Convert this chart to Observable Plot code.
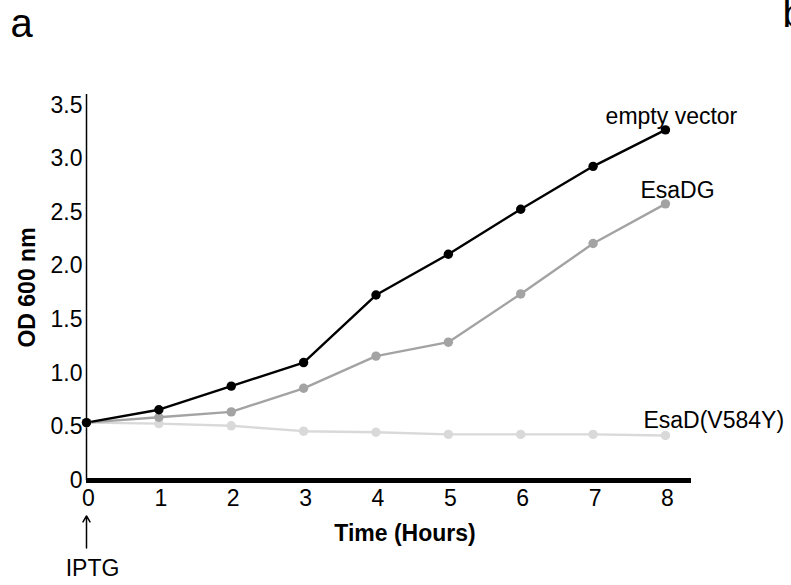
<!DOCTYPE html>
<html>
<head>
<meta charset="utf-8">
<script src="https://cdn.jsdelivr.net/npm/d3@7"></script>
<script src="https://cdn.jsdelivr.net/npm/@observablehq/plot@0.6"></script>
<style>
  html, body { margin: 0; padding: 0; background: #fff; }
  #chart svg { display: block; }
</style>
</head>
<body>
<div id="chart"></div>
<script>
const hours = [0, 1, 2, 3, 4, 5, 6, 7, 8];
const seriesNames = ["empty vector", "EsaDG", "EsaD(V584Y)"];
const emptyVector = [0.54, 0.66, 0.88, 1.10, 1.73, 2.11, 2.53, 2.93, 3.27];
const esaDG       = [0.54, 0.59, 0.64, 0.86, 1.16, 1.29, 1.74, 2.21, 2.58];
const esaDV584Y   = [0.54, 0.53, 0.51, 0.46, 0.45, 0.43, 0.43, 0.43, 0.42];
const seriesColors = ["#000000", "#a3a3a3", "#d9d9d9"];
const yTicks = [0, 0.5, 1.0, 1.5, 2.0, 2.5, 3.0, 3.5];
const yLabel = "OD 600 nm";
const xLabel = "Time (Hours)";
const inductionLabel = "IPTG";
const inductionArrow = {hour: 0, from: -0.63, to: -0.33};

const values = [emptyVector, esaDG, esaDV584Y];
const rows = seriesNames.flatMap((s, i) =>
  hours.map((h, j) => ({series: s, hour: h, od: values[i][j]})));
const last = seriesNames.map((s, i) => ({series: s, hour: hours[hours.length - 1], od: values[i][hours.length - 1]}));

const font = "'Liberation Sans', Arial, sans-serif";
const colorOf = d => seriesColors[seriesNames.indexOf(d.series)];

const plot = Plot.plot({
  width: 791,
  height: 585,
  marginLeft: 86,
  marginRight: 100,
  marginTop: 94,
  marginBottom: 105,
  style: {fontFamily: font, color: "#000", background: "#fff", overflow: "visible"},
  x: {domain: [0, 8.36]},
  y: {domain: [0, 3.6]},
  marks: [
    Plot.axisY({ticks: yTicks, tickSize: 0, tickPadding: 4, fontSize: 23, label: null,
      tickFormat: d => d === 0 ? "0" : d.toFixed(1)}),
    Plot.axisX({ticks: hours, tickSize: 0, tickPadding: 9, dx: 2, fontSize: 23, label: null}),
    Plot.ruleX([0], {stroke: "#000", strokeWidth: 1.5}),
    Plot.ruleY([0], {stroke: "#000", strokeWidth: 5}),
    Plot.line([...rows].reverse(), {x: "hour", y: "od", z: "series", stroke: colorOf, strokeWidth: 2.4}),
    Plot.dot([...rows].reverse(), {x: "hour", y: "od", r: 4.7, fill: colorOf, stroke: "none"}),
    Plot.text([last[0]], {x: "hour", y: "od", text: "series", dx: 6, dy: -13, fontSize: 23, fill: "#000"}),
    Plot.text([last[1]], {x: "hour", y: "od", text: "series", dx: 12, dy: -13, fontSize: 23, fill: "#000"}),
    Plot.text([last[2]], {x: "hour", y: "od", text: "series", dx: -22, dy: -15, textAnchor: "start", fontSize: 23, fill: "#000"}),
    Plot.text([yLabel], {frameAnchor: "left", dx: -59, rotate: -90, textAnchor: "middle", lineAnchor: "middle", fontSize: 23, fontWeight: "bold", fill: "#000"}),
    Plot.text([xLabel], {frameAnchor: "bottom", dx: 16, dy: 53, lineAnchor: "middle", fontSize: 23, fontWeight: "bold", fill: "#000"}),
    Plot.arrow([inductionArrow], {x1: "hour", x2: "hour", y1: "from", y2: "to", stroke: "#000", strokeWidth: 1.5, headLength: 7}),
    Plot.text([inductionLabel], {x: () => 0, frameAnchor: "bottom", dx: 6, dy: 88, lineAnchor: "middle", fontSize: 23, fill: "#000"}),
    Plot.text(["a"], {frameAnchor: "top-left", dx: -76, dy: -86, fontSize: 40, fill: "#000"}),
    Plot.text(["b"], {frameAnchor: "top-right", dx: 91, dy: -96, textAnchor: "start", fontSize: 40, fill: "#000"})
  ]
});
document.getElementById("chart").appendChild(plot);
</script>
</body>
</html>
